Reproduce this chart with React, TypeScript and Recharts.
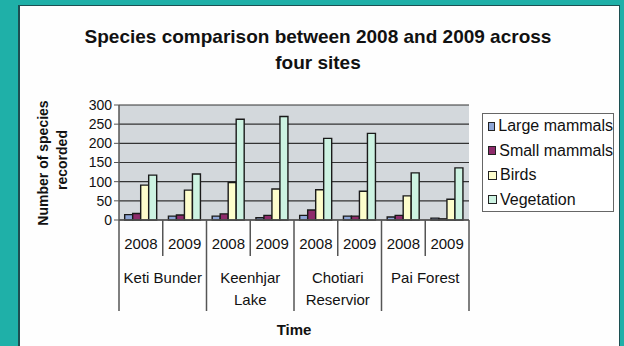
import { BarChart, Bar, XAxis, YAxis, CartesianGrid } from "recharts"

const sites = ["Keti Bunder", "Keenhjar\nLake", "Chotiari\nReservior", "Pai Forest"]
const years = ["2008", "2009"]

const largeMammals = [14, 10, 10, 6, 12, 10, 8, 5]
const smallMammals = [17, 13, 16, 12, 26, 10, 12, 3]
const birds = [91, 78, 98, 81, 79, 75, 63, 54]
const vegetation = [117, 120, 263, 270, 213, 226, 123, 136]

const yTicks = [0, 50, 100, 150, 200, 250, 300]

const series = [
  { key: "large", name: "Large mammals", fill: "#8ea6d6" },
  { key: "small", name: "Small mammals", fill: "#8e2b6b" },
  { key: "birds", name: "Birds", fill: "#fdfdcc" },
  { key: "veg", name: "Vegetation", fill: "#cdf3e2" },
]

const data = sites.flatMap((site, s) =>
  years.map((year, y) => {
    const i = s * 2 + y
    return {
      id: i,
      site,
      year,
      large: largeMammals[i],
      small: smallMammals[i],
      birds: birds[i],
      veg: vegetation[i],
    }
  })
)

const W = 624
const H = 346
const plotLeft = 119
const plotRight = 469
const plotTop = 105
const plotBottom = 220
const band = (plotRight - plotLeft) / data.length

const font = "'Liberation Sans', Arial, sans-serif"

// two-row category axis: years on top, site names below, with separators
function CategoryTick(props: any) {
  const { x, payload } = props
  const i = payload.index
  const d = data[i]
  const left = x - band / 2
  const right = x + band / 2
  const siteStart = i % 2 === 0
  const lines = d.site.split("\n")
  return (
    <g>
      <line x1={left} x2={left} y1={plotBottom} y2={siteStart ? 311 : 256} stroke="#555" strokeWidth={1.5} />
      {i === data.length - 1 && (
        <line x1={right} x2={right} y1={plotBottom} y2={311} stroke="#555" strokeWidth={1.5} />
      )}
      <text x={x} y={243} textAnchor="middle" dominantBaseline="central" fontSize={15} fill="#111" fontFamily={font}>
        {d.year}
      </text>
      {siteStart &&
        lines.map((t: string, k: number) => (
          <text key={k} x={right} y={277 + k * 22} textAnchor="middle" dominantBaseline="central" fontSize={15} fill="#111" fontFamily={font}>
            {t}
          </text>
        ))}
    </g>
  )
}

export default function App() {
  return (
    <div style={{ position: "absolute", left: 0, top: 0, width: W, height: H, background: "#1fb0a8", overflow: "hidden" }}>
      <div
        style={{
          position: "absolute",
          left: 18,
          top: 5,
          width: 602,
          height: 341,
          background: "#fefefe",
          borderLeft: "2px solid #1d4f52",
          borderTop: "1px solid #1d4f52",
          borderRight: "1px solid #1d4f52",
          boxSizing: "border-box",
        }}
      />
      <div
        style={{
          position: "absolute",
          left: 0,
          top: 24,
          width: 636,
          textAlign: "center",
          fontFamily: font,
          fontWeight: "bold",
          fontSize: 19,
          lineHeight: "26px",
          color: "#111",
        }}
      >
        Species comparison between 2008 and 2009 across
        <br />
        four sites
      </div>
      <div style={{ position: "absolute", left: 0, top: 0 }}>
        <BarChart
          width={W}
          height={H}
          data={data}
          margin={{ top: plotTop, right: W - plotRight, bottom: 0, left: 0 }}
          barCategoryGap="13%"
          barGap={0}
        >
          <CartesianGrid vertical={false} stroke="#333" strokeWidth={1.2} fill="#d3d8dc" />
          <XAxis
            dataKey="id"
            height={H - plotBottom}
            interval={0}
            tickLine={false}
            axisLine={{ stroke: "#555", strokeWidth: 1.5 }}
            tick={<CategoryTick />}
          />
          <YAxis
            width={plotLeft}
            domain={[0, 300]}
            ticks={yTicks}
            interval={0}
            tickSize={5}
            tickLine={{ stroke: "#555" }}
            axisLine={{ stroke: "#555", strokeWidth: 1.5 }}
            tick={{ fontSize: 14, fill: "#111", fontFamily: font }}
          />
          {series.map((s) => (
            <Bar key={s.key} dataKey={s.key} name={s.name} fill={s.fill} stroke="#1a1a1a" strokeWidth={1.4} isAnimationActive={false} />
          ))}
        </BarChart>
      </div>
      {/* axis titles */}
      <svg style={{ position: "absolute", left: 0, top: 0 }} width={W} height={H}>
        <text x={43} y={163} transform="rotate(-90 43 163)" textAnchor="middle" dominantBaseline="central" fontSize={14} fontWeight="bold" fontFamily={font} fill="#111">
          Number of species
        </text>
        <text x={62} y={160} transform="rotate(-90 62 160)" textAnchor="middle" dominantBaseline="central" fontSize={14} fontWeight="bold" fontFamily={font} fill="#111">
          recorded
        </text>
        <text x={294} y={329} textAnchor="middle" dominantBaseline="central" fontSize={15} fontWeight="bold" fontFamily={font} fill="#111">
          Time
        </text>
      </svg>
      {/* legend box */}
      <div
        style={{
          position: "absolute",
          left: 482,
          top: 113,
          width: 132,
          height: 99,
          border: "1.5px solid #666",
          boxSizing: "border-box",
          background: "#fff",
          fontFamily: font,
          fontSize: 16,
          color: "#111",
        }}
      >
        {series.map((s) => (
          <div key={s.key} style={{ display: "flex", alignItems: "center", height: 24.5, paddingLeft: 5, whiteSpace: "nowrap" }}>
            <span style={{ display: "inline-block", width: 7, height: 7, background: s.fill, border: "1.3px solid #222", marginRight: 3 }} />
            {s.name}
          </div>
        ))}
      </div>
    </div>
  )
}
